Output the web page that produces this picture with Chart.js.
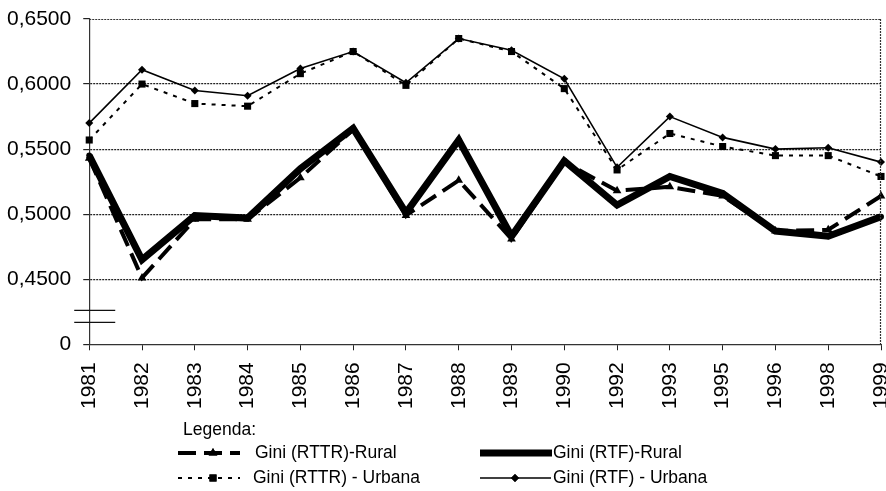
<!DOCTYPE html>
<html>
<head>
<meta charset="utf-8">
<script src="https://cdn.jsdelivr.net/npm/chart.js@4/dist/chart.umd.min.js"></script>
<style>
html,body{margin:0;padding:0;background:#fff;overflow:hidden;}
#wrap{position:absolute;left:0;top:0;width:886px;height:491px;}
</style>
</head>
<body>
<div id="wrap"><canvas id="c" width="886" height="491"></canvas></div>
<script>
const categories = ['1981','1982','1983','1984','1985','1986','1987','1988','1989','1990','1992','1993','1995','1996','1998','1999'];
const rttrRural  = [0.543,0.451,0.496,0.496,0.528,0.565,0.499,0.526,0.481,0.540,0.518,0.521,0.514,0.487,0.488,0.514];
const rtfRural   = [0.545,0.465,0.499,0.497,0.535,0.566,0.501,0.557,0.483,0.541,0.507,0.529,0.516,0.487,0.483,0.498];
const rttrUrbana = [0.557,0.600,0.585,0.583,0.608,0.625,0.599,0.635,0.625,0.5965,0.534,0.562,0.552,0.545,0.545,0.529];
const rtfUrbana  = [0.570,0.611,0.595,0.591,0.612,0.625,0.601,0.635,0.626,0.604,0.536,0.575,0.559,0.550,0.551,0.540];
const yTickValues = [0.40,0.45,0.50,0.55,0.60,0.65];
const legendTitle = 'Legenda:';
const seriesNames = ['Gini (RTTR)-Rural','Gini (RTF)-Rural','Gini (RTTR) - Urbana','Gini (RTF) - Urbana'];

const FONT = "'Liberation Sans', Arial, sans-serif";

const datasets = [
  {label: seriesNames[0], data: rttrRural, borderColor:'#000', backgroundColor:'#000', borderWidth:4,
   borderDash:[18,8], pointStyle:'triangle', pointRadius:5, clip:false, order:2},
  {label: seriesNames[1], data: rtfRural, borderColor:'#000', backgroundColor:'#000', borderWidth:7,
   pointStyle:'circle', pointRadius:3, clip:false, order:1},
  {label: seriesNames[2], data: rttrUrbana, borderColor:'#000', backgroundColor:'#000', borderWidth:2,
   borderDash:[4,6], pointStyle:'rect', pointRadius:5, clip:false, order:4},
  {label: seriesNames[3], data: rtfUrbana, borderColor:'#000', backgroundColor:'#000', borderWidth:1.6,
   pointStyle:'rectRot', pointRadius:4, clip:false, order:3}
];
datasets.forEach(d=>{d.tension=0; d.fill=false; d.pointBorderWidth=0;});

const framePlugin = {
  id:'frame',
  afterDraw(chart){
    const ctx = chart.ctx, a = chart.chartArea;
    ctx.save();
    ctx.strokeStyle = '#333';
    ctx.lineWidth = 1.2;
    ctx.setLineDash([2,1]);
    ctx.beginPath();
    ctx.moveTo(a.left, a.top+0.5); ctx.lineTo(a.right, a.top+0.5);
    ctx.moveTo(a.right-0.5, a.top); ctx.lineTo(a.right-0.5, a.bottom);
    ctx.stroke();
    ctx.setLineDash([]);
    // axis break marks
    ctx.strokeStyle = '#111';
    ctx.lineWidth = 1.2;
    const y = chart.scales.y;
    const yb1 = y.getPixelForValue(0.4) - 34, yb2 = y.getPixelForValue(0.4) - 22;
    ctx.beginPath();
    ctx.moveTo(a.left-15, yb1); ctx.lineTo(a.left+26, yb1);
    ctx.moveTo(a.left-15, yb2); ctx.lineTo(a.left+26, yb2);
    ctx.stroke();

    // legend
    ctx.fillStyle = '#000';
    ctx.font = "17.5px " + FONT;
    ctx.textBaseline = 'middle';
    ctx.textAlign = 'left';
    ctx.fillText(legendTitle, 183, 430);
    const rows = [
      {ds:0, x1:178, x2:240, mx:213, y:453, tx:255},
      {ds:1, x1:480, x2:552, mx:515, y:453, tx:553},
      {ds:2, x1:178, x2:240, mx:213, y:478, tx:253},
      {ds:3, x1:480, x2:551, mx:515, y:478, tx:553}
    ];
    rows.forEach(r=>{
      const d = chart.data.datasets[r.ds];
      ctx.save();
      ctx.strokeStyle = '#000';
      ctx.lineWidth = d.borderWidth;
      ctx.setLineDash(d.borderDash || []);
      ctx.beginPath(); ctx.moveTo(r.x1, r.y); ctx.lineTo(r.x2, r.y); ctx.stroke();
      ctx.setLineDash([]);
      Chart.helpers.drawPoint(ctx, {pointStyle:d.pointStyle, radius:d.pointRadius, rotation:0, borderWidth:0}, r.mx, r.y);
      ctx.fillStyle = '#000';
      ctx.fill();
      ctx.restore();
      ctx.fillStyle = '#000';
      ctx.fillText(d.label, r.tx, r.y);
    });
    ctx.restore();
  }
};

new Chart(document.getElementById('c'), {
  type:'line',
  data:{labels:categories, datasets},
  options:{
    responsive:false,
    animation:false,
    events:[],
    layout:{padding:{left:-5, top:19, right:0, bottom:70}},
    plugins:{legend:{display:false}, tooltip:{enabled:false}},
    scales:{
      x:{
        offset:false,
        afterFit(scale){ scale.paddingRight = 3; },
        grid:{drawOnChartArea:false, drawTicks:true, tickLength:6, color:'#222'},
        border:{color:'#333', width:1.2, dash:[2,1]},
        ticks:{color:'#000', font:{family:FONT, size:21}, maxRotation:90, minRotation:90, padding:12, autoSkip:false}
      },
      y:{
        min:0.40, max:0.65,
        afterFit(scale){ scale.paddingTop = 0; },
        afterBuildTicks(scale){ scale.ticks = yTickValues.map(v=>({value:v})); },
        grid:{
          color(ctx){ const v = ctx.tick && ctx.tick.value; return (v < 0.425 || v > 0.645) ? 'rgba(0,0,0,0)' : '#222'; },
          lineWidth:1.2, drawTicks:true, tickLength:6, tickColor:'#222'
        },
        border:{color:'#333', width:1.2, dash:[2,1]},
        ticks:{color:'#000', font:{family:FONT, size:21}, padding:12,
          callback(v){ return v < 0.425 ? '0' : Number(v).toFixed(4).replace('.', ','); }}
      }
    }
  },
  plugins:[framePlugin]
});
</script>
</body>
</html>
